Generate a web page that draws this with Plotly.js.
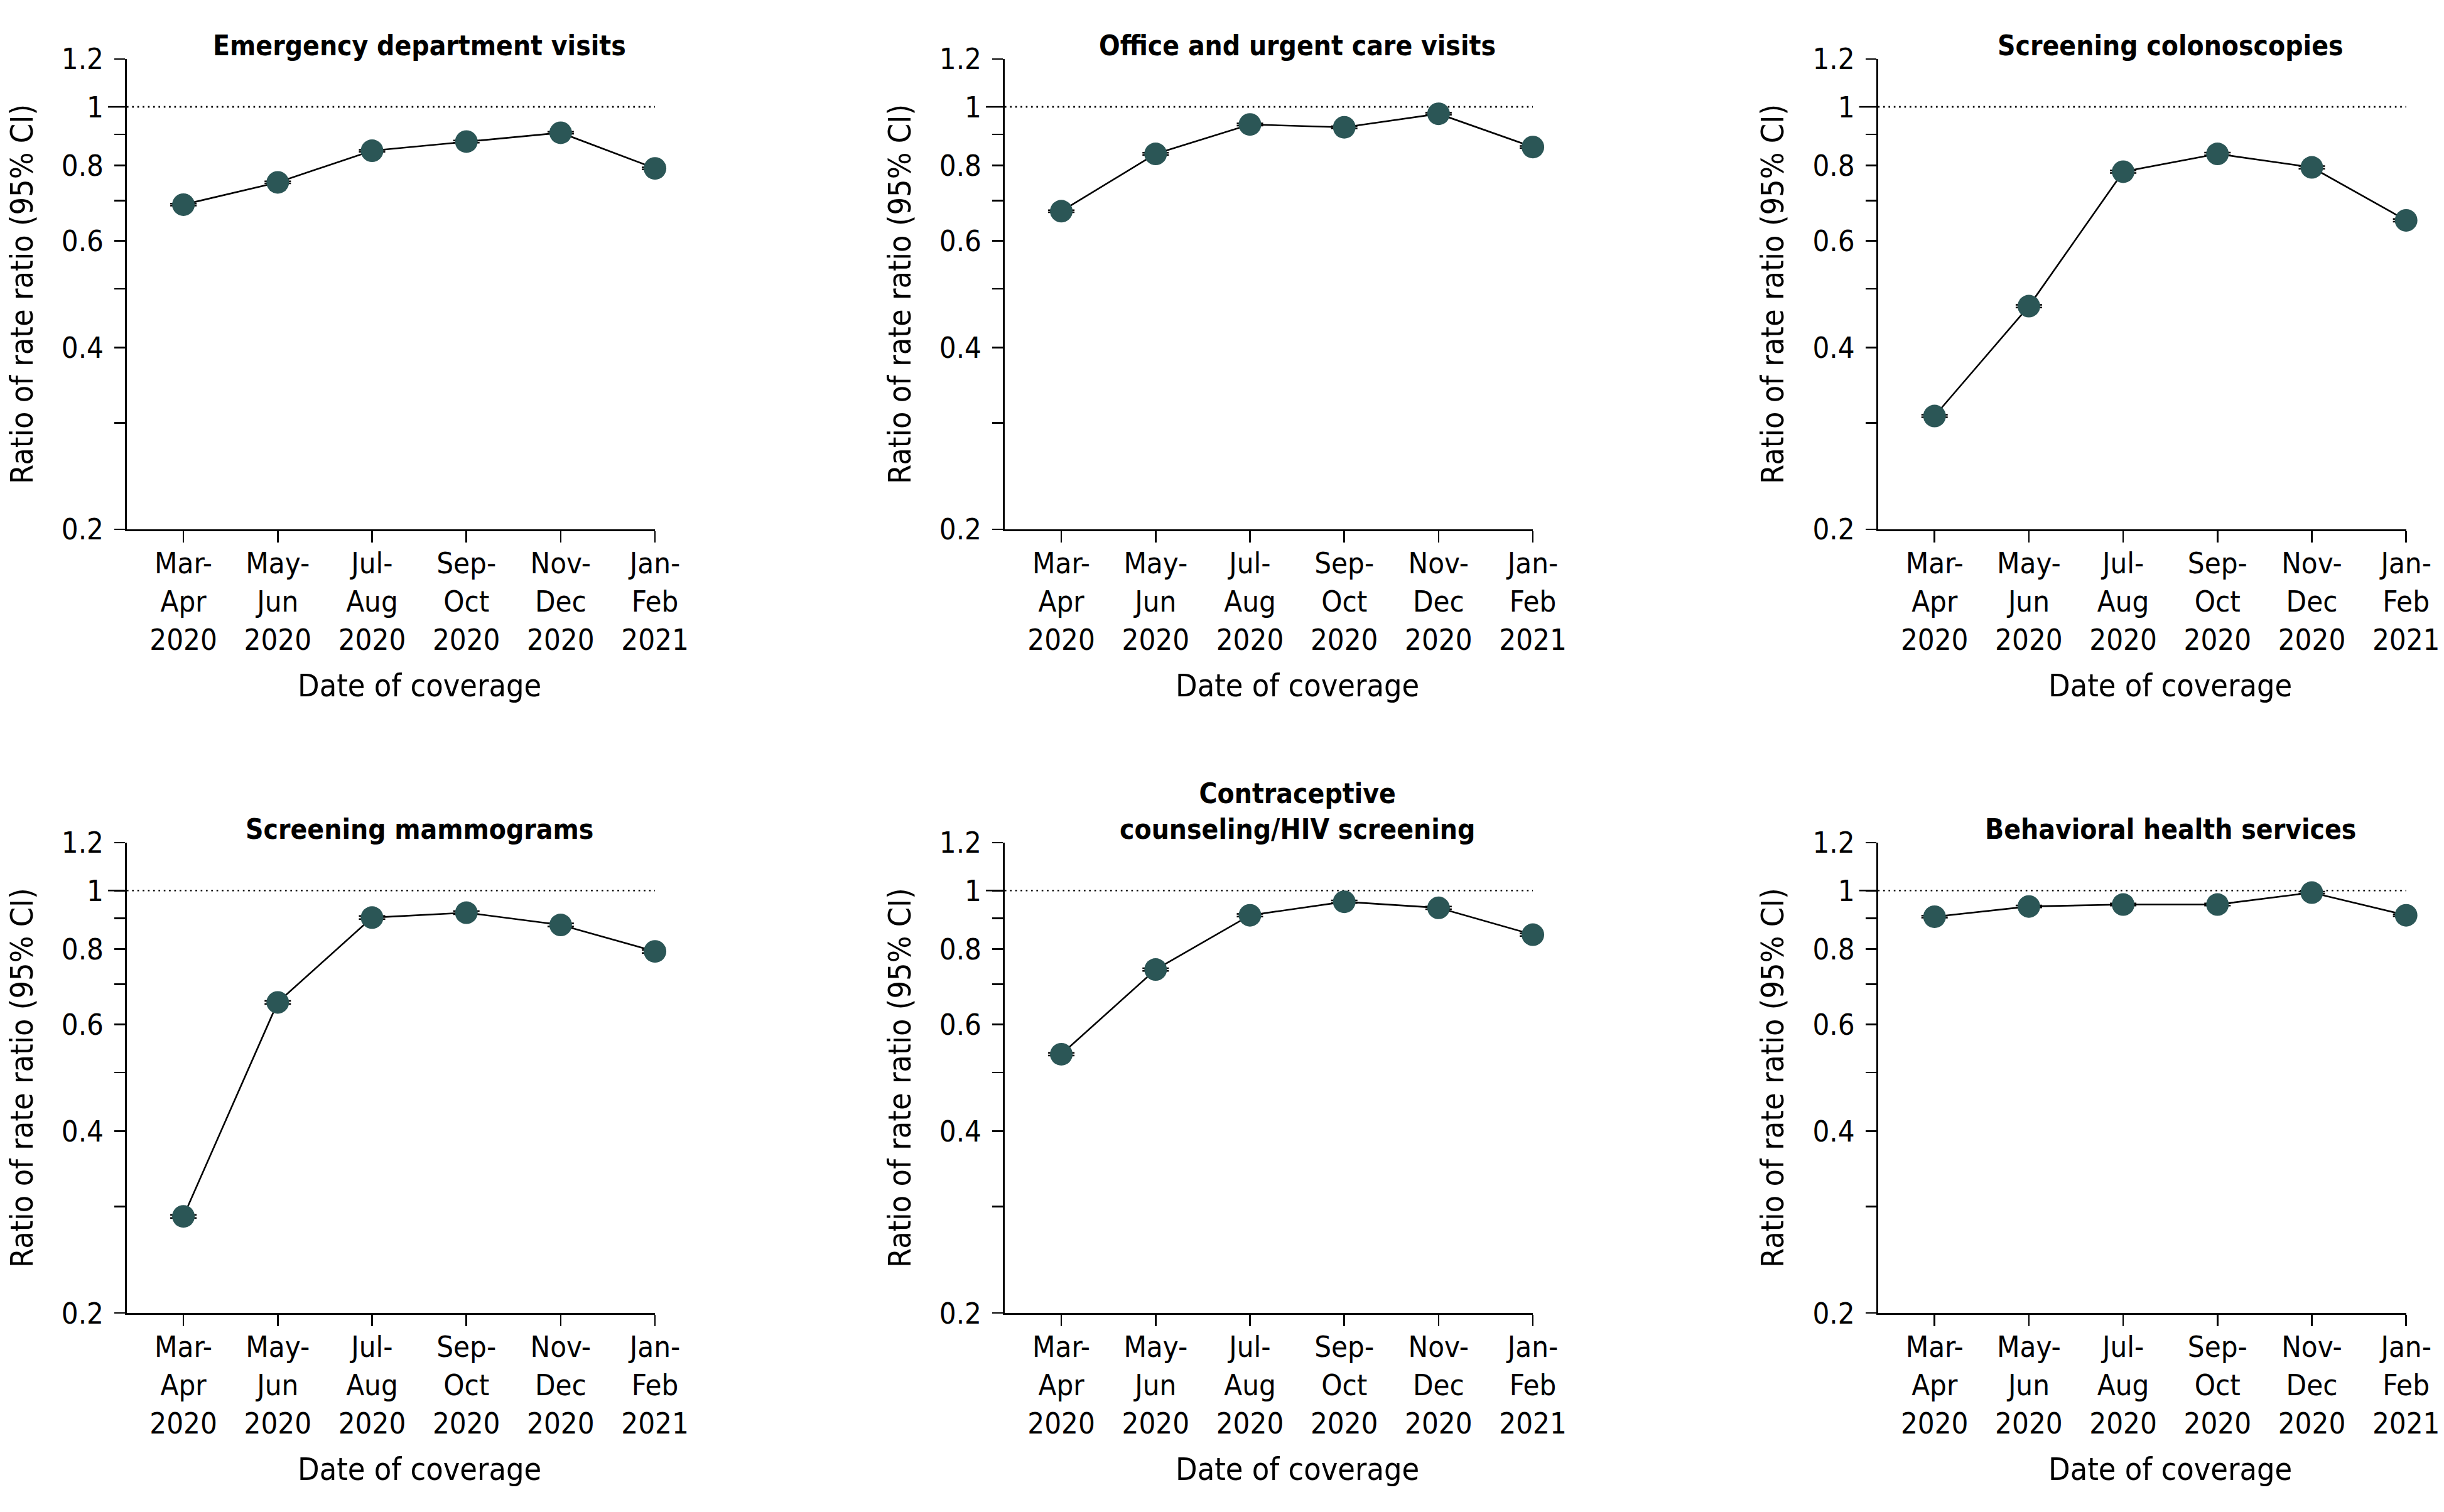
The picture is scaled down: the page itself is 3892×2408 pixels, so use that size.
<!DOCTYPE html>
<html>
<head>
<meta charset="utf-8">
<script src="https://cdn.plot.ly/plotly-3.0.1.min.js"></script>
<style>html,body{margin:0;padding:0;background:#fff}#chart{width:3892px;height:2408px}</style>
</head>
<body>
<div id="chart"></div>
<script>
// ---- data ----
const periods = ['Mar-<br>Apr<br>2020','May-<br>Jun<br>2020','Jul-<br>Aug<br>2020','Sep-<br>Oct<br>2020','Nov-<br>Dec<br>2020','Jan-<br>Feb<br>2021'];
const panelTitles = ['Emergency department visits','Office and urgent care visits','Screening colonoscopies','Screening mammograms','Contraceptive<br>counseling/HIV screening','Behavioral health services'];
const emergencyDept   = [0.689, 0.750, 0.846, 0.876, 0.906, 0.791];
const officeUrgent    = [0.672, 0.836, 0.935, 0.925, 0.974, 0.858];
const colonoscopies   = [0.308, 0.468, 0.781, 0.836, 0.794, 0.649];
const mammograms      = [0.289, 0.653, 0.902, 0.919, 0.877, 0.793];
const contraceptiveHIV= [0.536, 0.740, 0.910, 0.958, 0.936, 0.845];
const behavioral      = [0.905, 0.941, 0.948, 0.948, 0.992, 0.910];
const ciHalfWidthPct  = [0.4, 0.4, 0.5, 0.6, 0.5, 0.4];
const yTickVals = [0.2, 0.3, 0.4, 0.5, 0.6, 0.7, 0.8, 0.9, 1, 1.2];
const yTickText = ['0.2', '', '0.4', '', '0.6', '', '0.8', '', '1', '1.2'];
const referenceValue = 1;
const xAxisTitle = 'Date of coverage';
const yAxisTitle = 'Ratio of rate ratio (95% CI)';

// ---- styling / layout ----
const seriesList = [emergencyDept, officeUrgent, colonoscopies, mammograms, contraceptiveHIV, behavioral];
const FONT = '"DejaVu Sans Condensed", "Liberation Sans Narrow", "Roboto Condensed", sans-serif';
const markerColor = '#2b5656';
const xDomains = [[0.0519, 0.2680], [0.4111, 0.6272], [0.7684, 0.9845]];
const yDomains = [[0.6499, 0.9610], [0.1316, 0.4427]];

const traces = [];
const layout = {
  width: 3892, height: 2408,
  margin: {l: 0, r: 0, t: 0, b: 0},
  paper_bgcolor: '#ffffff', plot_bgcolor: 'rgba(0,0,0,0)',
  showlegend: false,
  font: {family: FONT, color: '#000', size: 46},
  annotations: [], shapes: []
};

seriesList.forEach((vals, i) => {
  const n = i + 1;
  const xa = 'x' + (n === 1 ? '' : n);
  const ya = 'y' + (n === 1 ? '' : n);
  const xKey = 'xaxis' + (n === 1 ? '' : n);
  const yKey = 'yaxis' + (n === 1 ? '' : n);
  const col = i % 3, row = Math.floor(i / 3);

  traces.push({
    type: 'scatter', mode: 'lines+markers',
    x: periods, y: vals, xaxis: xa, yaxis: ya,
    line: {color: '#000', width: 2.6},
    marker: {color: markerColor, size: 36, line: {width: 0}},
    error_y: {type: 'percent', value: ciHalfWidthPct[i], color: '#000', thickness: 2.5, width: 21},
    cliponaxis: false, hoverinfo: 'skip'
  });

  layout[xKey] = {
    domain: xDomains[col], anchor: ya, type: 'category',
    range: [-0.6, 5],
    showline: true, linecolor: '#000', linewidth: 2.6, mirror: false,
    ticks: 'outside', ticklen: 18, tickwidth: 2.6, tickcolor: '#000',
    ticklabelstandoff: -7,
    showgrid: false, zeroline: false,
    tickfont: {family: FONT, size: 47, color: '#000'},
    automargin: false, fixedrange: true
  };
  layout[yKey] = {
    domain: yDomains[row], anchor: xa, type: 'log',
    range: [Math.log10(0.2), Math.log10(1.2)],
    tickvals: yTickVals, ticktext: yTickText,
    showline: true, linecolor: '#000', linewidth: 2.6,
    ticks: 'outside', ticklen: 17, tickwidth: 2.6, tickcolor: '#000',
    ticklabelstandoff: 8,
    showgrid: false, zeroline: false,
    tickfont: {family: FONT, size: 47, color: '#000'},
    title: {text: yAxisTitle, font: {family: FONT, size: 50, color: '#000'}, standoff: 30},
    automargin: false, fixedrange: true
  };

  // reference line at 1 (dotted) and its longer tick
  layout.shapes.push({
    type: 'line', xref: xa + ' domain', yref: ya, x0: 0, x1: 1, y0: referenceValue, y1: referenceValue,
    line: {color: '#000', width: 2.6, dash: '2.6px,5.8px'}, layer: 'below'
  });
  layout.shapes.push({
    type: 'line', xref: xa + ' domain', yref: ya, x0: -30 / 841, x1: 0, y0: referenceValue, y1: referenceValue,
    line: {color: '#000', width: 2.6}
  });

  // panel title
  layout.annotations.push({
    text: '<b>' + panelTitles[i] + '</b>', showarrow: false,
    xref: xa, yref: ya + ' domain', x: 2.5, y: 1,
    xanchor: 'center', yanchor: 'bottom', yshift: -6,
    font: {family: FONT, size: 44, color: '#000'}
  });
  // x axis title, centred under the categories
  layout.annotations.push({
    text: xAxisTitle, showarrow: false,
    xref: xa, yref: ya + ' domain', x: 2.5, y: 0,
    xanchor: 'center', yanchor: 'middle', yshift: -249,
    font: {family: FONT, size: 50, color: '#000'}
  });
});

Plotly.newPlot('chart', traces, layout, {staticPlot: true, displayModeBar: false});
</script>
</body>
</html>
